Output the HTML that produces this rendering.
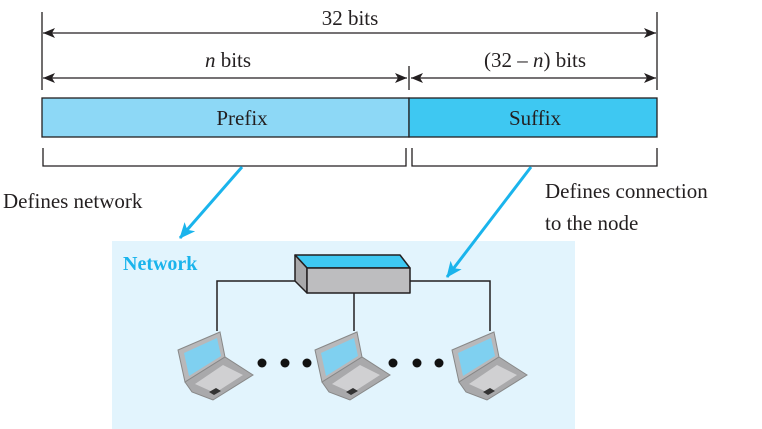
<!DOCTYPE html>
<html><head><meta charset="utf-8"><style>
html,body{margin:0;padding:0;background:#fff;}
svg{display:block;}
text{font-family:"Liberation Serif",serif;fill:#231f20;}
</style></head><body>
<svg width="762" height="429" viewBox="0 0 762 429" xmlns="http://www.w3.org/2000/svg">
<defs>
<marker id="ah" viewBox="0 0 12 10" refX="12" refY="5" markerWidth="12" markerHeight="10" orient="auto-start-reverse" markerUnits="userSpaceOnUse">
<path d="M0,0 L12,5 L0,10 L3,5 Z" fill="#231f20"/></marker>
<marker id="bh" viewBox="0 0 16 14" refX="15" refY="7" markerWidth="16" markerHeight="14" orient="auto" markerUnits="userSpaceOnUse">
<path d="M0,0 L16,7 L0,14 L4,7 Z" fill="#1ab4ec"/></marker>
<g id="lap">
<polygon points="7,30 49,12 54,37 14,62" fill="#b8b8ba" stroke="#888" stroke-width="1"/>
<polygon points="13,33 46,18 50,36 18,56" fill="#7fd0f0"/>
<polygon points="14,62 54,37 82,55 42,80 21,72" fill="#a9a9ab" stroke="#888" stroke-width="1"/>
<polygon points="24,64 52,45 72,55 44,73" fill="#d0d0d2"/>
<polygon points="38,72 45,68 50,71 43,75" fill="#333"/>
</g>
</defs>
<!-- dimension lines -->
<g stroke="#231f20" stroke-width="1.3" fill="none">
<line x1="42" y1="12" x2="42" y2="90"/>
<line x1="657" y1="12" x2="657" y2="90"/>
<line x1="409" y1="66" x2="409" y2="90"/>
<line x1="43" y1="33" x2="656" y2="33" marker-start="url(#ah)" marker-end="url(#ah)"/>
<line x1="43" y1="78" x2="407" y2="78" marker-start="url(#ah)" marker-end="url(#ah)"/>
<line x1="411" y1="78" x2="656" y2="78" marker-start="url(#ah)" marker-end="url(#ah)"/>
<polyline points="43,148 43,166 406,166 406,148"/>
<polyline points="412,148 412,166 657,166 657,148"/>
</g>
<text x="350" y="25" font-size="21" text-anchor="middle">32 bits</text>
<text x="228" y="67" font-size="21" text-anchor="middle"><tspan font-style="italic">n</tspan> bits</text>
<text x="535" y="67" font-size="21" text-anchor="middle">(32 – <tspan font-style="italic">n</tspan>) bits</text>
<rect x="42" y="98" width="367" height="39" fill="#8dd8f6" stroke="#231f20" stroke-width="1.3"/>
<rect x="409" y="98" width="248" height="39" fill="#3ec8f2" stroke="#231f20" stroke-width="1.3"/>
<text x="242" y="125" font-size="21" text-anchor="middle">Prefix</text>
<text x="535" y="125" font-size="21" text-anchor="middle">Suffix</text>
<text x="3" y="208" font-size="21">Defines network</text>
<text x="545" y="198" font-size="21">Defines connection</text>
<text x="545" y="230" font-size="21">to the node</text>
<!-- network -->
<rect x="112" y="241" width="463" height="188" fill="#e2f4fd"/>
<text x="123" y="270" font-size="20" font-weight="bold" style="fill:#1ab4ec">Network</text>
<g stroke="#231f20" stroke-width="1.5" fill="none">
<polyline points="217,331 217,281 296,281"/>
<polyline points="410,281 490,281 490,331"/>
<line x1="354" y1="293" x2="354" y2="331"/>
</g>
<g stroke="#231f20" stroke-width="1.5" stroke-linejoin="round">
<polygon points="295,255 400,255 410,268 307,268" fill="#3ec8f2"/>
<polygon points="295,255 307,268 307,293 295,281" fill="#a8a8aa"/>
<rect x="307" y="268" width="103" height="25" fill="#bdbdbf"/>
</g>
<use href="#lap" x="171" y="320"/>
<use href="#lap" x="308" y="320"/>
<use href="#lap" x="445" y="320"/>
<g fill="#111">
<circle cx="262" cy="363" r="4.5"/><circle cx="285" cy="363" r="4.5"/><circle cx="307" cy="363" r="4.5"/>
<circle cx="393" cy="363" r="4.5"/><circle cx="417" cy="363" r="4.5"/><circle cx="439" cy="363" r="4.5"/>
</g>
<g stroke="#1ab4ec" stroke-width="3">
<line x1="242" y1="167" x2="180" y2="238" marker-end="url(#bh)"/>
<line x1="531" y1="167" x2="447" y2="277" marker-end="url(#bh)"/>
</g>
</svg>
</body></html>
